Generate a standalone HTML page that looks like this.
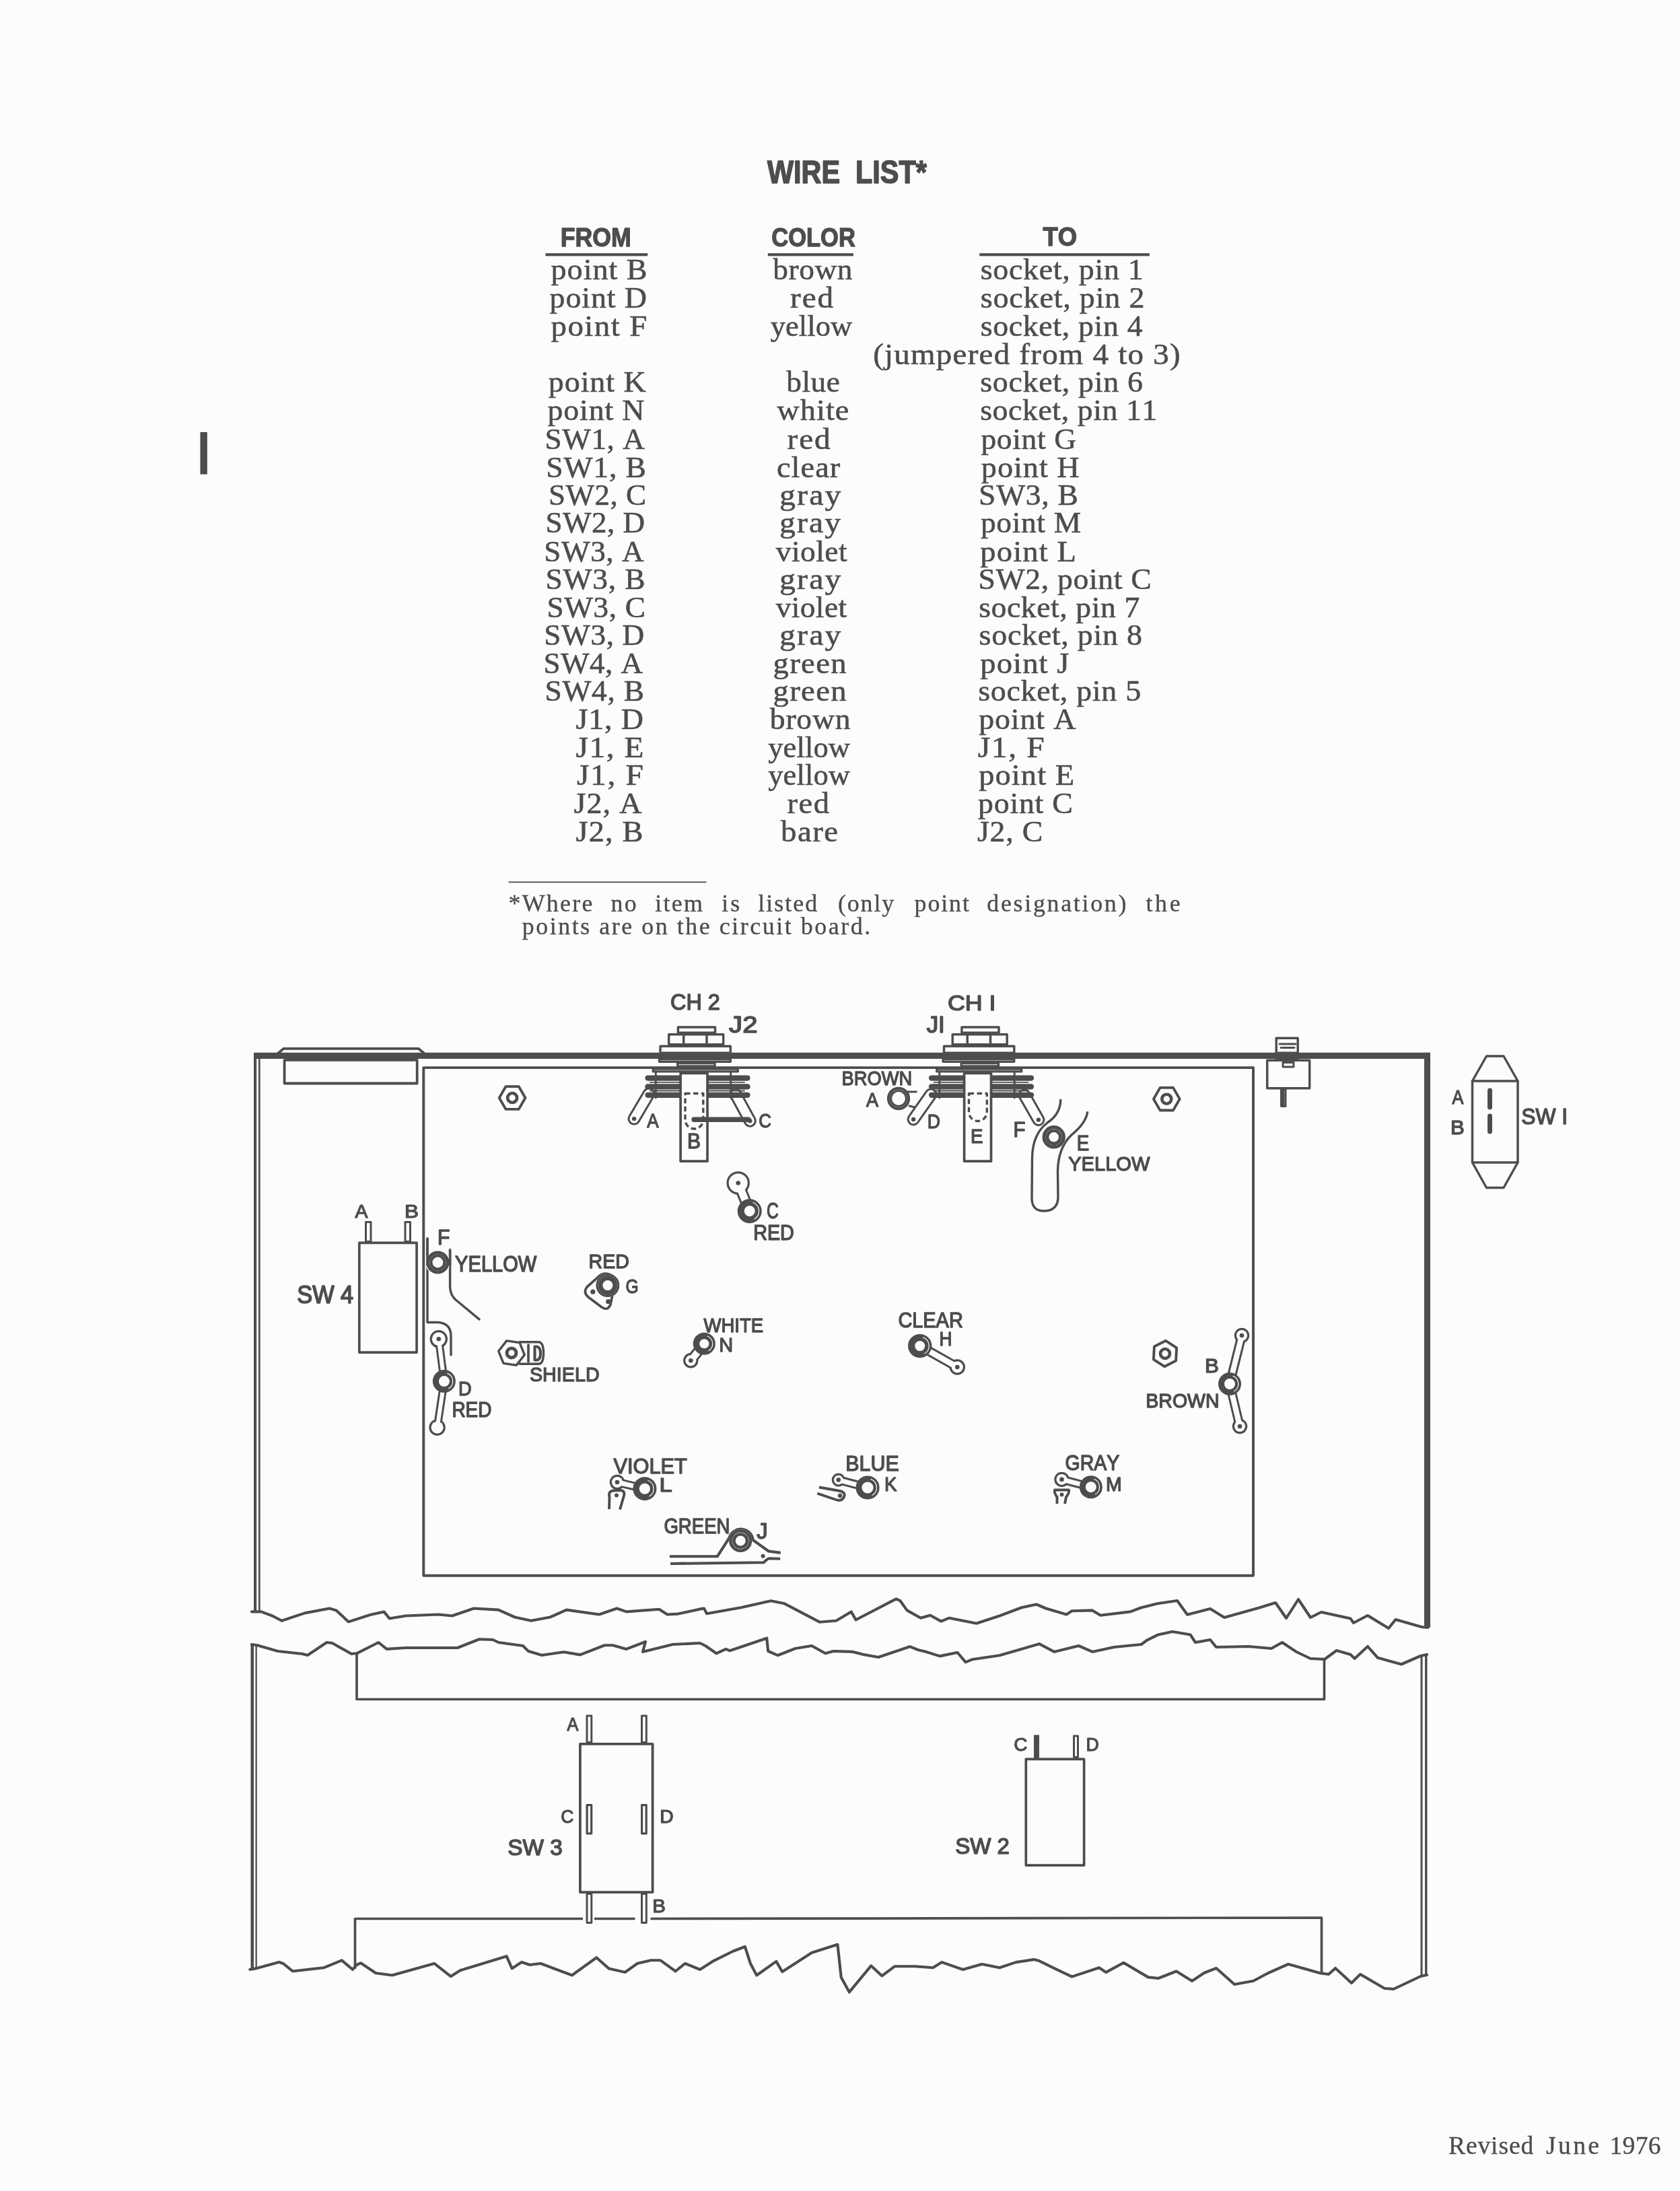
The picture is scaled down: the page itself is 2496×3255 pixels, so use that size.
<!DOCTYPE html>
<html><head><meta charset="utf-8"><title>Wire List</title>
<style>
html,body{margin:0;padding:0;background:#fcfcfc;}
body{width:2496px;height:3255px;overflow:hidden;position:relative;}
svg{position:absolute;left:0;top:0;display:block;will-change:transform;}
text{font-kerning:none;white-space:pre;}
</style></head><body>
<svg width="2496" height="3255" viewBox="0 0 2496 3255">
<g fill="#4d4d4d">
<text x="1140.0" y="271.7" font-family="'Liberation Sans',sans-serif" font-weight="bold" font-size="47.97" textLength="236.8" lengthAdjust="spacingAndGlyphs" stroke="#4d4d4d" stroke-width="1.58" stroke-linejoin="round">WIRE  LIST*</text>
<text x="832.7" y="365.7" font-family="'Liberation Sans',sans-serif" font-weight="bold" font-size="38.08" textLength="105.1" lengthAdjust="spacingAndGlyphs" stroke="#4d4d4d" stroke-width="1.26" stroke-linejoin="round">FROM</text>
<text x="1146.2" y="365.7" font-family="'Liberation Sans',sans-serif" font-weight="bold" font-size="38.08" textLength="124.7" lengthAdjust="spacingAndGlyphs" stroke="#4d4d4d" stroke-width="1.26" stroke-linejoin="round">COLOR</text>
<text x="1549.4" y="364.5" font-family="'Liberation Sans',sans-serif" font-weight="bold" font-size="38.37" textLength="50.7" lengthAdjust="spacingAndGlyphs" stroke="#4d4d4d" stroke-width="1.27" stroke-linejoin="round">TO</text>
<rect x="810.4" y="376.2" width="151.8" height="4.2"/>
<rect x="1140.8" y="376.2" width="127.1" height="4.2"/>
<rect x="1455.2" y="376.2" width="252.7" height="4.2"/>
<text transform="translate(818.6,415.2) scale(1.0423,1)" font-family="'Liberation Serif',serif" font-size="44.29" letter-spacing="0.91" stroke="#4d4d4d" stroke-width="0.60" stroke-linejoin="round">point B</text>
<text transform="translate(1148.2,415.2) scale(1.0224,1)" font-family="'Liberation Serif',serif" font-size="44.29" letter-spacing="0.63" stroke="#4d4d4d" stroke-width="0.60" stroke-linejoin="round">brown</text>
<text transform="translate(1456.7,415.2) scale(1.0373,1)" font-family="'Liberation Serif',serif" font-size="44.29" letter-spacing="0.69" stroke="#4d4d4d" stroke-width="0.60" stroke-linejoin="round">socket, pin 1</text>
<text transform="translate(816.6,456.8) scale(1.0383,1)" font-family="'Liberation Serif',serif" font-size="44.29" letter-spacing="0.84" stroke="#4d4d4d" stroke-width="0.60" stroke-linejoin="round">point D</text>
<text transform="translate(1174.1,456.8) scale(1.0648,1)" font-family="'Liberation Serif',serif" font-size="44.29" letter-spacing="1.79" stroke="#4d4d4d" stroke-width="0.60" stroke-linejoin="round">red</text>
<text transform="translate(1456.7,456.8) scale(1.0412,1)" font-family="'Liberation Serif',serif" font-size="44.29" letter-spacing="0.76" stroke="#4d4d4d" stroke-width="0.60" stroke-linejoin="round">socket, pin 2</text>
<text transform="translate(818.5,498.5) scale(1.0626,1)" font-family="'Liberation Serif',serif" font-size="44.29" letter-spacing="1.30" stroke="#4d4d4d" stroke-width="0.60" stroke-linejoin="round">point F</text>
<text transform="translate(1144.7,498.5) scale(1.0033,1)" font-family="'Liberation Serif',serif" font-size="44.29" letter-spacing="0.08" stroke="#4d4d4d" stroke-width="0.60" stroke-linejoin="round">yellow</text>
<text transform="translate(1456.7,498.5) scale(1.0349,1)" font-family="'Liberation Serif',serif" font-size="44.29" letter-spacing="0.65" stroke="#4d4d4d" stroke-width="0.60" stroke-linejoin="round">socket, pin 4</text>
<text transform="translate(1297.2,540.9) scale(1.0609,1)" font-family="'Liberation Serif',serif" font-size="44.29" letter-spacing="1.17" stroke="#4d4d4d" stroke-width="0.60" stroke-linejoin="round">(jumpered from 4 to 3)</text>
<text transform="translate(814.8,581.8) scale(1.0397,1)" font-family="'Liberation Serif',serif" font-size="44.29" letter-spacing="0.88" stroke="#4d4d4d" stroke-width="0.60" stroke-linejoin="round">point K</text>
<text transform="translate(1168.2,581.8) scale(1.0230,1)" font-family="'Liberation Serif',serif" font-size="44.29" letter-spacing="0.57" stroke="#4d4d4d" stroke-width="0.60" stroke-linejoin="round">blue</text>
<text transform="translate(1456.2,581.8) scale(1.0368,1)" font-family="'Liberation Serif',serif" font-size="44.29" letter-spacing="0.68" stroke="#4d4d4d" stroke-width="0.60" stroke-linejoin="round">socket, pin 6</text>
<text transform="translate(813.6,624.4) scale(1.0357,1)" font-family="'Liberation Serif',serif" font-size="44.29" letter-spacing="0.79" stroke="#4d4d4d" stroke-width="0.60" stroke-linejoin="round">point N</text>
<text transform="translate(1154.2,624.4) scale(1.0444,1)" font-family="'Liberation Serif',serif" font-size="44.29" letter-spacing="1.07" stroke="#4d4d4d" stroke-width="0.60" stroke-linejoin="round">white</text>
<text transform="translate(1456.2,624.4) scale(1.0323,1)" font-family="'Liberation Serif',serif" font-size="44.29" letter-spacing="0.60" stroke="#4d4d4d" stroke-width="0.60" stroke-linejoin="round">socket, pin 11</text>
<text transform="translate(809.5,667.0) scale(1.0205,1)" font-family="'Liberation Serif',serif" font-size="44.29" letter-spacing="0.57" stroke="#4d4d4d" stroke-width="0.60" stroke-linejoin="round">SW1, A</text>
<text transform="translate(1169.6,667.0) scale(1.0648,1)" font-family="'Liberation Serif',serif" font-size="44.29" letter-spacing="1.79" stroke="#4d4d4d" stroke-width="0.60" stroke-linejoin="round">red</text>
<text transform="translate(1457.4,667.0) scale(1.0284,1)" font-family="'Liberation Serif',serif" font-size="44.29" letter-spacing="0.62" stroke="#4d4d4d" stroke-width="0.60" stroke-linejoin="round">point G</text>
<text transform="translate(811.2,708.7) scale(1.0301,1)" font-family="'Liberation Serif',serif" font-size="44.29" letter-spacing="0.81" stroke="#4d4d4d" stroke-width="0.60" stroke-linejoin="round">SW1, B</text>
<text transform="translate(1153.9,708.7) scale(1.0480,1)" font-family="'Liberation Serif',serif" font-size="44.29" letter-spacing="1.01" stroke="#4d4d4d" stroke-width="0.60" stroke-linejoin="round">clear</text>
<text transform="translate(1457.8,708.7) scale(1.0434,1)" font-family="'Liberation Serif',serif" font-size="44.29" letter-spacing="0.96" stroke="#4d4d4d" stroke-width="0.60" stroke-linejoin="round">point H</text>
<text transform="translate(814.9,750.3) scale(1.0182,1)" font-family="'Liberation Serif',serif" font-size="44.29" letter-spacing="0.49" stroke="#4d4d4d" stroke-width="0.60" stroke-linejoin="round">SW2, C</text>
<text transform="translate(1157.9,750.3) scale(1.0802,1)" font-family="'Liberation Serif',serif" font-size="44.29" letter-spacing="2.05" stroke="#4d4d4d" stroke-width="0.60" stroke-linejoin="round">gray</text>
<text transform="translate(1454.1,750.3) scale(1.0272,1)" font-family="'Liberation Serif',serif" font-size="44.29" letter-spacing="0.74" stroke="#4d4d4d" stroke-width="0.60" stroke-linejoin="round">SW3, B</text>
<text transform="translate(810.4,791.1) scale(1.0177,1)" font-family="'Liberation Serif',serif" font-size="44.29" letter-spacing="0.49" stroke="#4d4d4d" stroke-width="0.60" stroke-linejoin="round">SW2, D</text>
<text transform="translate(1158.0,791.1) scale(1.0766,1)" font-family="'Liberation Serif',serif" font-size="44.29" letter-spacing="1.96" stroke="#4d4d4d" stroke-width="0.60" stroke-linejoin="round">gray</text>
<text transform="translate(1457.0,791.1) scale(1.0266,1)" font-family="'Liberation Serif',serif" font-size="44.29" letter-spacing="0.62" stroke="#4d4d4d" stroke-width="0.60" stroke-linejoin="round">point M</text>
<text transform="translate(808.3,833.5) scale(1.0198,1)" font-family="'Liberation Serif',serif" font-size="44.29" letter-spacing="0.55" stroke="#4d4d4d" stroke-width="0.60" stroke-linejoin="round">SW3, A</text>
<text transform="translate(1152.7,833.5) scale(1.0245,1)" font-family="'Liberation Serif',serif" font-size="44.29" letter-spacing="0.49" stroke="#4d4d4d" stroke-width="0.60" stroke-linejoin="round">violet</text>
<text transform="translate(1456.3,833.5) scale(1.0519,1)" font-family="'Liberation Serif',serif" font-size="44.29" letter-spacing="1.09" stroke="#4d4d4d" stroke-width="0.60" stroke-linejoin="round">point L</text>
<text transform="translate(810.4,874.6) scale(1.0283,1)" font-family="'Liberation Serif',serif" font-size="44.29" letter-spacing="0.77" stroke="#4d4d4d" stroke-width="0.60" stroke-linejoin="round">SW3, B</text>
<text transform="translate(1157.9,874.6) scale(1.0802,1)" font-family="'Liberation Serif',serif" font-size="44.29" letter-spacing="2.05" stroke="#4d4d4d" stroke-width="0.60" stroke-linejoin="round">gray</text>
<text transform="translate(1453.4,874.6) scale(1.0306,1)" font-family="'Liberation Serif',serif" font-size="44.29" letter-spacing="0.66" stroke="#4d4d4d" stroke-width="0.60" stroke-linejoin="round">SW2, point C</text>
<text transform="translate(812.5,916.8) scale(1.0218,1)" font-family="'Liberation Serif',serif" font-size="44.29" letter-spacing="0.59" stroke="#4d4d4d" stroke-width="0.60" stroke-linejoin="round">SW3, C</text>
<text transform="translate(1152.7,916.8) scale(1.0216,1)" font-family="'Liberation Serif',serif" font-size="44.29" letter-spacing="0.44" stroke="#4d4d4d" stroke-width="0.60" stroke-linejoin="round">violet</text>
<text transform="translate(1454.2,916.8) scale(1.0310,1)" font-family="'Liberation Serif',serif" font-size="44.29" letter-spacing="0.57" stroke="#4d4d4d" stroke-width="0.60" stroke-linejoin="round">socket, pin 7</text>
<text transform="translate(808.3,957.8) scale(1.0220,1)" font-family="'Liberation Serif',serif" font-size="44.29" letter-spacing="0.61" stroke="#4d4d4d" stroke-width="0.60" stroke-linejoin="round">SW3, D</text>
<text transform="translate(1157.9,957.8) scale(1.0802,1)" font-family="'Liberation Serif',serif" font-size="44.29" letter-spacing="2.05" stroke="#4d4d4d" stroke-width="0.60" stroke-linejoin="round">gray</text>
<text transform="translate(1454.6,957.8) scale(1.0377,1)" font-family="'Liberation Serif',serif" font-size="44.29" letter-spacing="0.70" stroke="#4d4d4d" stroke-width="0.60" stroke-linejoin="round">socket, pin 8</text>
<text transform="translate(807.4,999.6) scale(1.0177,1)" font-family="'Liberation Serif',serif" font-size="44.29" letter-spacing="0.49" stroke="#4d4d4d" stroke-width="0.60" stroke-linejoin="round">SW4, A</text>
<text transform="translate(1148.6,999.6) scale(1.0530,1)" font-family="'Liberation Serif',serif" font-size="44.29" letter-spacing="1.27" stroke="#4d4d4d" stroke-width="0.60" stroke-linejoin="round">green</text>
<text transform="translate(1456.3,999.6) scale(1.0529,1)" font-family="'Liberation Serif',serif" font-size="44.29" letter-spacing="1.04" stroke="#4d4d4d" stroke-width="0.60" stroke-linejoin="round">point J</text>
<text transform="translate(809.5,1041.3) scale(1.0262,1)" font-family="'Liberation Serif',serif" font-size="44.29" letter-spacing="0.71" stroke="#4d4d4d" stroke-width="0.60" stroke-linejoin="round">SW4, B</text>
<text transform="translate(1148.6,1041.3) scale(1.0530,1)" font-family="'Liberation Serif',serif" font-size="44.29" letter-spacing="1.27" stroke="#4d4d4d" stroke-width="0.60" stroke-linejoin="round">green</text>
<text transform="translate(1453.3,1041.3) scale(1.0367,1)" font-family="'Liberation Serif',serif" font-size="44.29" letter-spacing="0.68" stroke="#4d4d4d" stroke-width="0.60" stroke-linejoin="round">socket, pin 5</text>
<text transform="translate(855.5,1082.8) scale(1.0373,1)" font-family="'Liberation Serif',serif" font-size="44.29" letter-spacing="0.85" stroke="#4d4d4d" stroke-width="0.60" stroke-linejoin="round">J1, D</text>
<text transform="translate(1143.8,1082.8) scale(1.0285,1)" font-family="'Liberation Serif',serif" font-size="44.29" letter-spacing="0.80" stroke="#4d4d4d" stroke-width="0.60" stroke-linejoin="round">brown</text>
<text transform="translate(1454.2,1082.8) scale(1.0374,1)" font-family="'Liberation Serif',serif" font-size="44.29" letter-spacing="0.83" stroke="#4d4d4d" stroke-width="0.60" stroke-linejoin="round">point A</text>
<text transform="translate(855.5,1124.6) scale(1.0693,1)" font-family="'Liberation Serif',serif" font-size="44.29" letter-spacing="1.48" stroke="#4d4d4d" stroke-width="0.60" stroke-linejoin="round">J1, E</text>
<text transform="translate(1141.2,1124.6) scale(1.0054,1)" font-family="'Liberation Serif',serif" font-size="44.29" letter-spacing="0.13" stroke="#4d4d4d" stroke-width="0.60" stroke-linejoin="round">yellow</text>
<text transform="translate(1452.7,1124.6) scale(1.0737,1)" font-family="'Liberation Serif',serif" font-size="44.29" letter-spacing="1.54" stroke="#4d4d4d" stroke-width="0.60" stroke-linejoin="round">J1, F</text>
<text transform="translate(857.0,1166.3) scale(1.0725,1)" font-family="'Liberation Serif',serif" font-size="44.29" letter-spacing="1.52" stroke="#4d4d4d" stroke-width="0.60" stroke-linejoin="round">J1, F</text>
<text transform="translate(1141.2,1166.3) scale(1.0054,1)" font-family="'Liberation Serif',serif" font-size="44.29" letter-spacing="0.13" stroke="#4d4d4d" stroke-width="0.60" stroke-linejoin="round">yellow</text>
<text transform="translate(1454.2,1166.3) scale(1.0493,1)" font-family="'Liberation Serif',serif" font-size="44.29" letter-spacing="1.04" stroke="#4d4d4d" stroke-width="0.60" stroke-linejoin="round">point E</text>
<text transform="translate(852.6,1207.8) scale(1.0396,1)" font-family="'Liberation Serif',serif" font-size="44.29" letter-spacing="0.91" stroke="#4d4d4d" stroke-width="0.60" stroke-linejoin="round">J2, A</text>
<text transform="translate(1169.6,1207.8) scale(1.0520,1)" font-family="'Liberation Serif',serif" font-size="44.29" letter-spacing="1.43" stroke="#4d4d4d" stroke-width="0.60" stroke-linejoin="round">red</text>
<text transform="translate(1453.0,1207.8) scale(1.0352,1)" font-family="'Liberation Serif',serif" font-size="44.29" letter-spacing="0.75" stroke="#4d4d4d" stroke-width="0.60" stroke-linejoin="round">point C</text>
<text transform="translate(855.5,1249.6) scale(1.0490,1)" font-family="'Liberation Serif',serif" font-size="44.29" letter-spacing="1.08" stroke="#4d4d4d" stroke-width="0.60" stroke-linejoin="round">J2, B</text>
<text transform="translate(1160.0,1249.6) scale(1.0575,1)" font-family="'Liberation Serif',serif" font-size="44.29" letter-spacing="1.43" stroke="#4d4d4d" stroke-width="0.60" stroke-linejoin="round">bare</text>
<text transform="translate(1452.0,1249.6) scale(1.0337,1)" font-family="'Liberation Serif',serif" font-size="44.29" letter-spacing="0.74" stroke="#4d4d4d" stroke-width="0.60" stroke-linejoin="round">J2, C</text>
<rect x="755.5" y="1309.6" width="294" height="1.8"/>
<text x="755.5" y="1353.6" font-family="'Liberation Serif',serif" font-size="35.89" letter-spacing="2.28" stroke="#4d4d4d" stroke-width="0.35" stroke-linejoin="round">*Where</text>
<text x="907.6" y="1353.6" font-family="'Liberation Serif',serif" font-size="35.89" letter-spacing="2.20" stroke="#4d4d4d" stroke-width="0.35" stroke-linejoin="round">no</text>
<text x="973.2" y="1353.6" font-family="'Liberation Serif',serif" font-size="35.89" letter-spacing="2.31" stroke="#4d4d4d" stroke-width="0.35" stroke-linejoin="round">item</text>
<text x="1072.2" y="1353.6" font-family="'Liberation Serif',serif" font-size="35.89" letter-spacing="3.01" stroke="#4d4d4d" stroke-width="0.35" stroke-linejoin="round">is</text>
<text x="1126.3" y="1353.6" font-family="'Liberation Serif',serif" font-size="35.89" letter-spacing="2.02" stroke="#4d4d4d" stroke-width="0.35" stroke-linejoin="round">listed</text>
<text x="1244.9" y="1353.6" font-family="'Liberation Serif',serif" font-size="35.89" letter-spacing="1.92" stroke="#4d4d4d" stroke-width="0.35" stroke-linejoin="round">(only</text>
<text x="1358.6" y="1353.6" font-family="'Liberation Serif',serif" font-size="35.89" letter-spacing="1.88" stroke="#4d4d4d" stroke-width="0.35" stroke-linejoin="round">point</text>
<text x="1466.3" y="1353.6" font-family="'Liberation Serif',serif" font-size="35.89" letter-spacing="2.71" stroke="#4d4d4d" stroke-width="0.35" stroke-linejoin="round">designation)</text>
<text x="1702.4" y="1353.6" font-family="'Liberation Serif',serif" font-size="35.89" letter-spacing="3.67" stroke="#4d4d4d" stroke-width="0.35" stroke-linejoin="round">the</text>
<text x="775.8" y="1387.9" font-family="'Liberation Serif',serif" font-size="35.89" letter-spacing="2.55" stroke="#4d4d4d" stroke-width="0.35" stroke-linejoin="round">points are on the circuit board.</text>
<text x="2152.0" y="3200.4" font-family="'Liberation Serif',serif" font-size="37.57" letter-spacing="0.87" stroke="#4d4d4d" stroke-width="0.35" stroke-linejoin="round">Revised</text>
<text x="2297.1" y="3200.4" font-family="'Liberation Serif',serif" font-size="37.57" letter-spacing="3.34" stroke="#4d4d4d" stroke-width="0.35" stroke-linejoin="round">June</text>
<text x="2391.5" y="3200.4" font-family="'Liberation Serif',serif" font-size="37.57" letter-spacing="0.33" stroke="#4d4d4d" stroke-width="0.35" stroke-linejoin="round">1976</text>
<rect x="297.5" y="642" width="10.4" height="62.6"/>
</g>
<g stroke="#4d4d4d" stroke-linejoin="round" fill="none">
<rect x="377.0" y="1563.8" width="1748.0" height="9.2" fill="#4d4d4d" stroke="none"/>
<rect x="2116.0" y="1563.8" width="9.0" height="854.2" fill="#4d4d4d" stroke="none"/>
<rect x="377.0" y="1565.0" width="4.2" height="831.0" fill="#4d4d4d" stroke="none"/>
<rect x="384.0" y="1573.0" width="2.6" height="823.0" fill="#4d4d4d" stroke="none"/>
<polyline points="412.7,1565.0 421.6,1557.8 621.6,1557.8 630.5,1565.0" fill="none" stroke-width="3.6799999999999997" stroke-linecap="round"/>
<rect x="422.6" y="1574.9" width="197.1" height="34.6" fill="none" stroke-width="3.7949999999999995"/>
<rect x="629.3" y="1586.1" width="1232.7" height="754.6" fill="none" stroke-width="3.9099999999999997"/>
<rect x="1007.4" y="1526.0" width="55.1" height="8.3" fill="none" stroke-width="3.4499999999999997"/>
<rect x="993.7" y="1536.7" width="81.0" height="15.1" fill="none" stroke-width="3.4499999999999997"/>
<polyline points="1015.7,1536.0 1015.7,1552.0" fill="none" stroke-width="3.4499999999999997" stroke-linecap="round"/>
<polyline points="1050.0,1536.0 1050.0,1552.0" fill="none" stroke-width="3.4499999999999997" stroke-linecap="round"/>
<rect x="981.0" y="1554.2" width="104.3" height="10.1" fill="none" stroke-width="3.4499999999999997"/>
<rect x="979.6" y="1573.2" width="105.7" height="4.1" fill="#fcfcfc" stroke-width="3.4499999999999997"/>
<rect x="1006.6" y="1579.6" width="55.4" height="4.3" fill="#fcfcfc" stroke-width="3.2199999999999998"/>
<rect x="970.2" y="1588.1" width="126.1" height="3.8" fill="#fcfcfc" stroke-width="3.2199999999999998"/>
<line x1="964" y1="1625" x2="942.1" y2="1662.1" stroke-width="19" stroke-linecap="round"/>
<line x1="964" y1="1625" x2="942.1" y2="1662.1" stroke="#fcfcfc" stroke-width="13" stroke-linecap="round"/>
<circle cx="942.1" cy="1662.1" r="3.2" fill="#4d4d4d" stroke-width="0"/>
<line x1="1093" y1="1626" x2="1114.3" y2="1665.2" stroke-width="19" stroke-linecap="round"/>
<line x1="1093" y1="1626" x2="1114.3" y2="1665.2" stroke="#fcfcfc" stroke-width="13" stroke-linecap="round"/>
<circle cx="1114.3" cy="1665.2" r="3.2" fill="#4d4d4d" stroke-width="0"/>
<line x1="962.5" y1="1601.6" x2="1110.5" y2="1601.6" stroke-width="8.2" stroke-linecap="round"/>
<line x1="962.5" y1="1614.4" x2="1110.5" y2="1614.4" stroke-width="8.4" stroke-linecap="round"/>
<line x1="962.5" y1="1626.8" x2="1110.5" y2="1626.8" stroke-width="8.3" stroke-linecap="round"/>
<polyline points="966.0,1607.9 1106.0,1607.9" fill="none" stroke-width="1.8399999999999999" stroke-linecap="round"/>
<polyline points="966.0,1620.5 1106.0,1620.5" fill="none" stroke-width="1.8399999999999999" stroke-linecap="round"/>
<polyline points="974.3,1593.0 974.3,1631.0" fill="none" stroke-width="2.9899999999999998" stroke-linecap="round"/>
<polyline points="1085.7,1593.0 1085.7,1631.0" fill="none" stroke-width="2.9899999999999998" stroke-linecap="round"/>
<rect x="1011.1" y="1594.3" width="39.9" height="130.9" fill="#fcfcfc" stroke-width="3.6799999999999997"/>
<path d="M1018.0,1624.5 L1044.8,1624.5 L1044.8,1663.6 A13.4,13.4 0 0 1 1018.0,1663.6 Z" stroke-width="3.4" stroke-dasharray="7.5,4.5"/>
<polyline points="1031.0,1663.2 1112.0,1663.2" fill="none" stroke-width="7.359999999999999" stroke-linecap="round"/>
<rect x="1428.9" y="1526.0" width="55.1" height="8.3" fill="none" stroke-width="3.4499999999999997"/>
<rect x="1415.2" y="1536.7" width="81.0" height="15.1" fill="none" stroke-width="3.4499999999999997"/>
<polyline points="1437.2,1536.0 1437.2,1552.0" fill="none" stroke-width="3.4499999999999997" stroke-linecap="round"/>
<polyline points="1471.5,1536.0 1471.5,1552.0" fill="none" stroke-width="3.4499999999999997" stroke-linecap="round"/>
<rect x="1402.5" y="1554.2" width="104.3" height="10.1" fill="none" stroke-width="3.4499999999999997"/>
<rect x="1401.1" y="1573.2" width="105.6" height="4.1" fill="#fcfcfc" stroke-width="3.4499999999999997"/>
<rect x="1428.1" y="1579.6" width="55.4" height="4.3" fill="#fcfcfc" stroke-width="3.2199999999999998"/>
<rect x="1391.7" y="1588.1" width="126.1" height="3.8" fill="#fcfcfc" stroke-width="3.2199999999999998"/>
<line x1="1383" y1="1626" x2="1357.1" y2="1662.9" stroke-width="19" stroke-linecap="round"/>
<line x1="1383" y1="1626" x2="1357.1" y2="1662.9" stroke="#fcfcfc" stroke-width="13" stroke-linecap="round"/>
<circle cx="1357.1" cy="1662.9" r="3.2" fill="#4d4d4d" stroke-width="0"/>
<line x1="1522" y1="1627" x2="1542.9" y2="1663.6" stroke-width="19" stroke-linecap="round"/>
<line x1="1522" y1="1627" x2="1542.9" y2="1663.6" stroke="#fcfcfc" stroke-width="13" stroke-linecap="round"/>
<circle cx="1542.9" cy="1663.6" r="3.2" fill="#4d4d4d" stroke-width="0"/>
<line x1="1384.0" y1="1601.6" x2="1532.0" y2="1601.6" stroke-width="8.2" stroke-linecap="round"/>
<line x1="1384.0" y1="1614.4" x2="1532.0" y2="1614.4" stroke-width="8.4" stroke-linecap="round"/>
<line x1="1384.0" y1="1626.8" x2="1532.0" y2="1626.8" stroke-width="8.3" stroke-linecap="round"/>
<polyline points="1387.5,1607.9 1527.5,1607.9" fill="none" stroke-width="1.8399999999999999" stroke-linecap="round"/>
<polyline points="1387.5,1620.5 1527.5,1620.5" fill="none" stroke-width="1.8399999999999999" stroke-linecap="round"/>
<polyline points="1395.8,1593.0 1395.8,1631.0" fill="none" stroke-width="2.9899999999999998" stroke-linecap="round"/>
<polyline points="1507.2,1593.0 1507.2,1631.0" fill="none" stroke-width="2.9899999999999998" stroke-linecap="round"/>
<rect x="1432.6" y="1594.3" width="39.9" height="130.9" fill="#fcfcfc" stroke-width="3.6799999999999997"/>
<path d="M1439.5,1624.5 L1466.3,1624.5 L1466.3,1652.1 A13.4,13.4 0 0 1 1439.5,1652.1 Z" stroke-width="3.4" stroke-dasharray="7.5,4.5"/>
<circle cx="1335" cy="1632" r="16.8" fill="#fcfcfc" stroke-width="0"/>
<circle cx="1335" cy="1632" r="15.2" fill="none" stroke-width="3.91"/>
<circle cx="1335" cy="1632" r="11.5" fill="none" stroke-width="3.22"/>
<polyline points="1348.6,1622.0 1361.4,1622.0" fill="none" stroke-width="2.9899999999999998" stroke-linecap="round"/>
<polyline points="1351.0,1643.0 1359.0,1645.0" fill="none" stroke-width="2.9899999999999998" stroke-linecap="round"/>
<path d="M1575.7,1632.9 Q1576,1655 1556,1668 Q1534,1685 1533.5,1720 L1533,1780 Q1533,1800 1552.5,1799 Q1572,1798 1572,1778 L1571.5,1740 Q1572,1705 1592,1686 Q1614,1668 1615.7,1651.4" fill="none" stroke-width="3.45"/>
<circle cx="1565.7" cy="1689.3" r="17.5" fill="#fcfcfc" stroke-width="0"/>
<circle cx="1565.7" cy="1689.3" r="14.6" fill="none" stroke-width="5.2"/>
<circle cx="1565.7" cy="1689.3" r="9.6" fill="none" stroke-width="4.6"/>
<rect x="1896.2" y="1542.2" width="32.0" height="22.1" fill="#fcfcfc" stroke-width="3.4499999999999997"/>
<polyline points="1901.0,1551.0 1925.0,1551.0" fill="none" stroke-width="2.875" stroke-linecap="round"/>
<polyline points="1903.0,1556.5 1923.0,1556.5" fill="none" stroke-width="2.875" stroke-linecap="round"/>
<rect x="1894.5" y="1563.0" width="35.5" height="11.0" fill="#4d4d4d" stroke="none"/>
<rect x="1882.7" y="1575.2" width="63.0" height="41.5" fill="none" stroke-width="3.4499999999999997"/>
<rect x="1906.0" y="1578.5" width="16.0" height="6.5" fill="none" stroke-width="2.9899999999999998"/>
<rect x="1903.5" y="1618.5" width="6.5" height="25.0" fill="none" stroke-width="2.9899999999999998"/>
<rect x="1905.0" y="1618.0" width="3.5" height="26.0" fill="#4d4d4d" stroke="none"/>
<polygon points="2208.5,1569.0 2234.0,1569.0 2255.0,1606.0 2255.0,1727.0 2234.0,1764.5 2208.5,1764.5 2187.5,1727.0 2187.5,1606.0" fill="none" stroke-width="3.4499999999999997" stroke-linecap="round"/>
<polyline points="2187.5,1606.0 2255.0,1606.0" fill="none" stroke-width="3.4499999999999997" stroke-linecap="round"/>
<polyline points="2187.5,1727.0 2255.0,1727.0" fill="none" stroke-width="3.4499999999999997" stroke-linecap="round"/>
<line x1="2213.5" y1="1620" x2="2213.5" y2="1645" stroke-width="7" stroke-linecap="round"/>
<line x1="2213.5" y1="1658" x2="2213.5" y2="1681" stroke-width="7" stroke-linecap="round"/>
<polygon points="780.5,1631.0 770.8,1647.8 751.4,1647.8 741.7,1631.0 751.4,1614.2 770.8,1614.2" fill="none" stroke-width="3.7949999999999995" stroke-linecap="round"/>
<circle cx="761.1" cy="1631" r="7" fill="none" stroke-width="4.6"/>
<polygon points="1752.7,1632.7 1743.0,1649.5 1723.6,1649.5 1713.9,1632.7 1723.6,1615.9 1743.0,1615.9" fill="none" stroke-width="3.7949999999999995" stroke-linecap="round"/>
<circle cx="1733.3" cy="1632.7" r="7" fill="none" stroke-width="4.6"/>
<polygon points="1730.0,2030.2 1713.9,2019.7 1714.9,2000.5 1732.0,1991.8 1748.1,2002.3 1747.1,2021.5" fill="none" stroke-width="3.9099999999999997" stroke-linecap="round"/>
<circle cx="1731" cy="2011" r="7" fill="none" stroke-width="4.6"/>
<line x1="1096.7" y1="1757.5" x2="1113.7" y2="1799.2" stroke-width="17" stroke-linecap="butt"/>
<circle cx="1096.7" cy="1757.5" r="15.5" fill="#4d4d4d" stroke-width="3.45"/>
<circle cx="1096.7" cy="1757.5" r="14.0" fill="#fcfcfc" stroke="none"/>
<line x1="1096.7" y1="1757.5" x2="1113.7" y2="1799.2" stroke="#fcfcfc" stroke-width="11" stroke-linecap="butt"/>
<circle cx="1096.7" cy="1757.5" r="3.3" fill="#4d4d4d" stroke-width="0"/>
<circle cx="1113.7" cy="1799.2" r="13.0" fill="#fcfcfc" stroke-width="10.0"/>
<path d="M1118.4,1786.2 A13.8,13.8 0 0 1 1120.6,1811.2" stroke="#fcfcfc" stroke-width="1.2"/>
<rect x="533.8" y="1846.3" width="85.3" height="162.8" fill="none" stroke-width="3.6799999999999997"/>
<rect x="543.5" y="1815.5" width="7.5" height="29.0" fill="none" stroke-width="2.9899999999999998"/>
<rect x="602.0" y="1815.5" width="7.5" height="29.0" fill="none" stroke-width="2.9899999999999998"/>
<path d="M635,1839.7 L635,1964.5 L651,1964.5 Q670,1966 670,1985 L670,2014.2" fill="none" stroke-width="3.45"/>
<path d="M668.6,1856.5 L668.6,1912 Q669,1924 677,1931 L713.1,1960.9" fill="none" stroke-width="3.45"/>
<circle cx="650.4" cy="1875.5" r="18.5" fill="#fcfcfc" stroke-width="0"/>
<circle cx="650.4" cy="1875.5" r="14.6" fill="none" stroke-width="5"/>
<circle cx="650.4" cy="1875.5" r="10" fill="none" stroke-width="4.14"/>
<polyline points="635.0,1839.7 635.0,1880.0" fill="none" stroke-width="3.4499999999999997" stroke-linecap="round"/>
<polyline points="668.6,1856.5 668.6,1880.0" fill="none" stroke-width="3.4499999999999997" stroke-linecap="round"/>
<path d="M872,1912 Q866,1920 874,1927 L894,1942 Q903,1948 907,1938 L913.5,1907 Q915,1897 905,1893 Q896,1890 890,1896 Z" fill="none" stroke-width="3.68"/>
<circle cx="880.8" cy="1919.2" r="3.6" fill="#4d4d4d" stroke-width="0"/>
<circle cx="903.7" cy="1933.7" r="3.6" fill="#4d4d4d" stroke-width="0"/>
<circle cx="902.9" cy="1909.6" r="17.5" fill="#fcfcfc" stroke-width="0"/>
<circle cx="902.9" cy="1909.6" r="11" fill="none" stroke-width="7"/>
<circle cx="902.9" cy="1909.6" r="16" fill="none" stroke-width="2.99"/>
<line x1="1026.3" y1="2021.3" x2="1046.3" y2="1996.3" stroke-width="16" stroke-linecap="butt"/>
<circle cx="1026.3" cy="2021.3" r="9.5" fill="#4d4d4d" stroke-width="3.45"/>
<circle cx="1026.3" cy="2021.3" r="8.0" fill="#fcfcfc" stroke="none"/>
<line x1="1026.3" y1="2021.3" x2="1046.3" y2="1996.3" stroke="#fcfcfc" stroke-width="10" stroke-linecap="butt"/>
<circle cx="1026.3" cy="2021.3" r="3.3" fill="#4d4d4d" stroke-width="0"/>
<circle cx="1046.3" cy="1996.3" r="11.8" fill="#fcfcfc" stroke-width="9.5"/>
<path d="M1050.5,1984.7 A12.3,12.3 0 0 1 1052.5,2007.0" stroke="#fcfcfc" stroke-width="1.2"/>
<path d="M771,1993.8 L800,1993.8 Q807.5,1994 807.5,2010 Q807.5,2026.3 800,2026.3 L771,2026.3" fill="none" stroke-width="3.45"/>
<polyline points="785.0,1998.0 785.0,2023.0" fill="none" stroke-width="3.6799999999999997" stroke-linecap="round"/>
<path d="M794.5,2000.5 L797,2000.5 Q803,2001 803,2010.5 Q803,2020.5 797,2020.5 L794.5,2020.5 Z" fill="none" stroke-width="4.14"/>
<polygon points="779.3,2012.7 767.3,2028.1 748.0,2025.4 740.7,2007.3 752.7,1991.9 772.0,1994.6" fill="none" stroke-width="3.4499999999999997" stroke-linecap="round"/>
<circle cx="760" cy="2010" r="7" fill="none" stroke-width="4.6"/>
<circle cx="760" cy="2010" r="7" fill="none" stroke-width="4.5"/>
<line x1="651.8" y1="1989.3" x2="659.9" y2="2052.1" stroke-width="12" stroke-linecap="butt"/>
<circle cx="651.8" cy="1989.3" r="11.5" fill="#4d4d4d" stroke-width="3.45"/>
<circle cx="651.8" cy="1989.3" r="10.0" fill="#fcfcfc" stroke="none"/>
<line x1="651.8" y1="1989.3" x2="659.9" y2="2052.1" stroke="#fcfcfc" stroke-width="6" stroke-linecap="butt"/>
<circle cx="651.8" cy="1989.3" r="3.3" fill="#4d4d4d" stroke-width="0"/>
<line x1="649.6" y1="2120.7" x2="659.9" y2="2052.1" stroke-width="12" stroke-linecap="butt"/>
<circle cx="649.6" cy="2120.7" r="10.5" fill="#4d4d4d" stroke-width="3.45"/>
<circle cx="649.6" cy="2120.7" r="9.0" fill="#fcfcfc" stroke="none"/>
<line x1="649.6" y1="2120.7" x2="659.9" y2="2052.1" stroke="#fcfcfc" stroke-width="6" stroke-linecap="butt"/>
<circle cx="659.9" cy="2052.1" r="12.5" fill="#fcfcfc" stroke-width="9.0"/>
<path d="M664.3,2040.1 A12.8,12.8 0 0 1 666.3,2063.2" stroke="#fcfcfc" stroke-width="1.2"/>
<line x1="1422.3" y1="2031" x2="1366.7" y2="1999.6" stroke-width="14.5" stroke-linecap="butt"/>
<circle cx="1422.3" cy="2031" r="10.0" fill="#4d4d4d" stroke-width="3.45"/>
<circle cx="1422.3" cy="2031" r="8.5" fill="#fcfcfc" stroke="none"/>
<line x1="1422.3" y1="2031" x2="1366.7" y2="1999.6" stroke="#fcfcfc" stroke-width="8.5" stroke-linecap="butt"/>
<circle cx="1422.3" cy="2031" r="3.3" fill="#4d4d4d" stroke-width="0"/>
<circle cx="1366.7" cy="1999.6" r="12.6" fill="#fcfcfc" stroke-width="10.2"/>
<path d="M1371.3,1986.9 A13.5,13.5 0 0 1 1373.5,2011.3" stroke="#fcfcfc" stroke-width="1.2"/>
<line x1="1845" y1="1984" x2="1827" y2="2056" stroke-width="14" stroke-linecap="butt"/>
<circle cx="1845" cy="1984" r="9.5" fill="#4d4d4d" stroke-width="3.45"/>
<circle cx="1845" cy="1984" r="8.0" fill="#fcfcfc" stroke="none"/>
<line x1="1845" y1="1984" x2="1827" y2="2056" stroke="#fcfcfc" stroke-width="8" stroke-linecap="butt"/>
<circle cx="1845" cy="1984" r="3.3" fill="#4d4d4d" stroke-width="0"/>
<line x1="1842" y1="2119" x2="1827" y2="2056" stroke-width="14" stroke-linecap="butt"/>
<circle cx="1842" cy="2119" r="9.5" fill="#4d4d4d" stroke-width="3.45"/>
<circle cx="1842" cy="2119" r="8.0" fill="#fcfcfc" stroke="none"/>
<line x1="1842" y1="2119" x2="1827" y2="2056" stroke="#fcfcfc" stroke-width="8" stroke-linecap="butt"/>
<circle cx="1842" cy="2119" r="3.3" fill="#4d4d4d" stroke-width="0"/>
<circle cx="1827" cy="2056" r="12.5" fill="#fcfcfc" stroke-width="9.0"/>
<path d="M1831.4,2044.0 A12.8,12.8 0 0 1 1833.4,2067.1" stroke="#fcfcfc" stroke-width="1.2"/>
<line x1="917" y1="2202" x2="957.9" y2="2211.7" stroke-width="13" stroke-linecap="butt"/>
<circle cx="917" cy="2202" r="9.5" fill="#4d4d4d" stroke-width="3.45"/>
<circle cx="917" cy="2202" r="8.0" fill="#fcfcfc" stroke="none"/>
<line x1="917" y1="2202" x2="957.9" y2="2211.7" stroke="#fcfcfc" stroke-width="7" stroke-linecap="butt"/>
<circle cx="917" cy="2202" r="3.3" fill="#4d4d4d" stroke-width="0"/>
<circle cx="957.9" cy="2211.7" r="12.8" fill="#fcfcfc" stroke-width="9.5"/>
<path d="M962.4,2199.2 A13.3,13.3 0 0 1 964.5,2223.2" stroke="#fcfcfc" stroke-width="1.2"/>
<path d="M905,2242 L905.5,2224 Q903,2215 912,2214.5 L921,2214 Q929,2214 927,2222 L921,2242.5" fill="none" stroke-width="3.91"/>
<circle cx="916" cy="2221.5" r="3" fill="#4d4d4d" stroke-width="0"/>
<line x1="1245.7" y1="2198.6" x2="1289" y2="2210" stroke-width="13" stroke-linecap="butt"/>
<circle cx="1245.7" cy="2198.6" r="8.3" fill="#4d4d4d" stroke-width="3.45"/>
<circle cx="1245.7" cy="2198.6" r="6.8" fill="#fcfcfc" stroke="none"/>
<line x1="1245.7" y1="2198.6" x2="1289" y2="2210" stroke="#fcfcfc" stroke-width="7" stroke-linecap="butt"/>
<circle cx="1245.7" cy="2198.6" r="3.3" fill="#4d4d4d" stroke-width="0"/>
<circle cx="1289" cy="2210" r="13.1" fill="#fcfcfc" stroke-width="9.0"/>
<path d="M1293.6,2197.4 A13.4,13.4 0 0 1 1295.7,2221.6" stroke="#fcfcfc" stroke-width="1.2"/>
<path d="M1217,2209.5 L1245,2214.5 Q1257,2216 1254,2224 Q1250,2231 1242,2228 L1214.3,2218.6" fill="none" stroke-width="3.91"/>
<circle cx="1248" cy="2222" r="3.2" fill="#4d4d4d" stroke-width="0"/>
<line x1="1577.5" y1="2197.9" x2="1620.8" y2="2209.2" stroke-width="13" stroke-linecap="butt"/>
<circle cx="1577.5" cy="2197.9" r="9.5" fill="#4d4d4d" stroke-width="3.45"/>
<circle cx="1577.5" cy="2197.9" r="8.0" fill="#fcfcfc" stroke="none"/>
<line x1="1577.5" y1="2197.9" x2="1620.8" y2="2209.2" stroke="#fcfcfc" stroke-width="7" stroke-linecap="butt"/>
<circle cx="1577.5" cy="2197.9" r="3.3" fill="#4d4d4d" stroke-width="0"/>
<circle cx="1620.8" cy="2209.2" r="12.5" fill="#fcfcfc" stroke-width="9.0"/>
<path d="M1625.2,2197.2 A12.8,12.8 0 0 1 1627.2,2220.3" stroke="#fcfcfc" stroke-width="1.2"/>
<path d="M1570.5,2234 L1570.5,2224 Q1566,2218 1567,2213.5 L1588,2213.5 Q1589,2218 1584,2224 L1582,2234" fill="none" stroke-width="3.91"/>
<circle cx="1577.5" cy="2220.5" r="3" fill="#4d4d4d" stroke-width="0"/>
<path d="M994.9,2312.3 L1065.7,2312.3 L1083.6,2284.3 A18,18 0 0 1 1118.7,2287.9 L1141.9,2304.5 L1159.8,2306.9" fill="none" stroke-width="4.14"/>
<path d="M996.1,2323 L1134.8,2321.2 Q1139,2316 1143,2315.2 L1159.2,2315.8" fill="none" stroke-width="4.14"/>
<circle cx="1133.6" cy="2311.7" r="3" fill="#4d4d4d" stroke-width="0"/>
<circle cx="1100.2" cy="2289" r="17" fill="#fcfcfc" stroke-width="0"/>
<circle cx="1100.2" cy="2289" r="14.8" fill="none" stroke-width="4.6"/>
<circle cx="1100.2" cy="2289" r="9.8" fill="none" stroke-width="4.6"/>
<polyline points="374.0,2394.4 388.0,2394.4 404.5,2400.5 418.7,2407.8 453.0,2396.4 489.5,2389.5 499.6,2392.4 517.9,2409.4 550.0,2399.0 570.5,2394.4 578.6,2404.5 602.9,2400.5 651.4,2398.5 671.7,2400.5 704.0,2389.5 740.5,2391.6 764.8,2402.5 789.0,2407.8 817.4,2402.5 841.7,2391.6 890.2,2398.5 916.5,2389.5 930.7,2394.4 979.3,2390.8 991.4,2398.5 1007.6,2397.6 1040.0,2390.4 1046.0,2389.5 1050.0,2397.2 1100.7,2388.3 1145.2,2378.2 1165.5,2382.3 1218.0,2409.8 1242.4,2407.8 1264.6,2394.4 1271.5,2406.5 1331.4,2375.4 1337.5,2378.2 1347.6,2392.4 1367.9,2403.7 1382.0,2399.7 1398.2,2408.6 1410.4,2403.7 1450.8,2411.8 1485.2,2400.5 1517.6,2388.3 1539.9,2383.5 1554.0,2389.5 1584.4,2398.5 1592.5,2393.2 1622.9,2392.4 1635.0,2399.7 1679.5,2394.4 1695.7,2388.3 1720.0,2382.3 1749.0,2378.0 1764.0,2398.7 1798.0,2390.0 1819.0,2403.0 1872.6,2388.0 1895.0,2381.0 1911.0,2404.0 1929.0,2376.0 1947.0,2403.0 1963.0,2395.0 2006.5,2404.6 2011.0,2411.0 2032.0,2400.0 2063.0,2419.0 2073.5,2406.0 2112.0,2417.0 2121.0,2418.0" fill="none" stroke-width="4.14" stroke-linecap="round"/>
<polyline points="374.0,2443.0 382.3,2444.2 412.6,2453.0 449.0,2457.0 457.0,2459.0 485.5,2440.0 493.6,2441.0 522.0,2457.0 530.0,2456.3 562.4,2440.0 574.5,2449.9 602.9,2448.0 679.8,2448.0 712.0,2435.3 732.4,2436.0 740.5,2440.0 776.9,2445.0 785.0,2453.0 805.0,2459.0 837.6,2454.3 862.0,2458.4 898.3,2444.2 910.5,2444.2 930.7,2449.9 959.0,2439.0 955.0,2454.0 999.5,2443.0 1040.0,2441.0 1048.0,2445.0 1064.3,2456.3 1078.5,2449.9 1084.5,2452.3 1139.2,2433.7 1141.2,2453.0 1155.4,2459.2 1181.7,2449.0 1206.0,2445.0 1226.2,2456.3 1238.3,2453.0 1266.7,2453.9 1282.9,2458.0 1305.0,2462.0 1351.7,2446.2 1363.8,2451.0 1376.0,2454.0 1396.2,2460.4 1422.5,2455.0 1434.6,2469.3 1444.8,2465.2 1485.2,2459.2 1544.0,2442.2 1566.2,2453.9 1602.6,2445.0 1622.9,2453.9 1655.2,2447.0 1695.7,2443.0 1703.8,2436.9 1720.0,2428.8 1741.7,2424.0 1768.5,2428.5 1776.0,2440.0 1798.0,2436.0 1807.0,2447.0 1855.0,2446.0 1889.0,2449.0 1905.0,2440.0 1926.0,2454.0 1947.0,2464.0 1968.0,2465.0 1985.7,2452.0 2006.5,2458.0 2012.5,2464.0 2032.0,2446.0 2046.7,2462.7 2082.0,2472.5 2110.7,2460.0 2120.0,2458.0" fill="none" stroke-width="4.14" stroke-linecap="round"/>
<polyline points="371.3,2926.0 380.0,2924.4 414.6,2915.0 420.7,2917.0 434.9,2928.5 481.4,2923.2 507.7,2912.3 524.0,2926.0 530.0,2919.0 536.0,2916.3 558.3,2931.3 582.6,2934.5 645.4,2917.0 669.6,2936.2 683.8,2927.3 752.6,2906.2 760.7,2924.4 774.9,2915.0 787.0,2919.0 803.2,2917.0 849.8,2934.5 886.2,2908.2 904.4,2924.4 928.7,2930.0 946.9,2917.0 967.1,2912.3 981.3,2912.3 1003.6,2928.5 1017.8,2917.0 1040.0,2926.0 1060.2,2913.1 1088.6,2899.0 1106.8,2892.0 1114.9,2917.0 1124.2,2934.5 1153.3,2913.9 1162.2,2929.3 1206.0,2901.0 1244.4,2888.8 1249.7,2937.4 1261.8,2959.6 1294.2,2920.4 1310.4,2935.4 1329.4,2921.2 1359.8,2921.2 1386.1,2923.2 1399.4,2915.1 1430.6,2926.0 1458.9,2918.0 1485.2,2923.2 1509.5,2915.1 1535.8,2911.1 1543.9,2913.1 1560.1,2921.2 1592.5,2936.6 1633.0,2923.2 1643.1,2930.1 1669.4,2915.9 1705.8,2937.4 1721.0,2939.0 1747.6,2928.5 1771.0,2943.0 1789.0,2931.0 1807.0,2924.0 1834.0,2948.0 1862.0,2943.0 1884.5,2931.0 1914.0,2918.0 1962.0,2931.4 1974.0,2933.0 1984.0,2924.0 2008.0,2946.0 2021.0,2933.0 2057.0,2954.0 2070.5,2955.0 2110.7,2936.0 2120.0,2934.0" fill="none" stroke-width="4.14" stroke-linecap="round"/>
<rect x="372.5" y="2442.5" width="4.5" height="483.5" fill="#4d4d4d" stroke="none"/>
<rect x="379.5" y="2444.0" width="2.3" height="481.0" fill="#4d4d4d" stroke="none"/>
<rect x="2117.0" y="2458.0" width="3.5" height="478.0" fill="#4d4d4d" stroke="none"/>
<rect x="2110.5" y="2460.0" width="3.0" height="476.0" fill="#4d4d4d" stroke="none"/>
<polyline points="530.0,2456.5 530.0,2524.5 1967.5,2524.5 1967.5,2465.0" fill="none" stroke-width="3.6799999999999997" stroke-linecap="butt"/>
<polyline points="527.5,2925.0 527.5,2850.5 866.0,2850.5" fill="none" stroke-width="3.6799999999999997" stroke-linecap="butt"/>
<polyline points="883.0,2850.5 943.5,2850.5" fill="none" stroke-width="3.6799999999999997" stroke-linecap="butt"/>
<polyline points="966.5,2850.5 1963.5,2849.0 1963.5,2931.0" fill="none" stroke-width="3.6799999999999997" stroke-linecap="butt"/>
<rect x="861.9" y="2590.9" width="107.7" height="220.2" fill="none" stroke-width="3.7949999999999995"/>
<rect x="872.0" y="2549.0" width="6.8" height="39.5" fill="none" stroke-width="2.9899999999999998"/>
<rect x="872.0" y="2813.5" width="6.8" height="43.0" fill="none" stroke-width="2.9899999999999998"/>
<rect x="872.1" y="2681.6" width="6.6" height="42.3" fill="none" stroke-width="3.2199999999999998"/>
<rect x="953.5" y="2549.0" width="6.8" height="39.5" fill="none" stroke-width="2.9899999999999998"/>
<rect x="953.5" y="2813.5" width="6.8" height="43.0" fill="none" stroke-width="2.9899999999999998"/>
<rect x="953.6" y="2681.6" width="6.6" height="42.3" fill="none" stroke-width="3.2199999999999998"/>
<rect x="1524.3" y="2613.3" width="86.3" height="157.8" fill="none" stroke-width="3.6799999999999997"/>
<rect x="1536.0" y="2577.5" width="8.0" height="34.5" fill="#4d4d4d" stroke="none"/>
<rect x="1595.5" y="2579.0" width="6.0" height="31.5" fill="none" stroke-width="2.9899999999999998"/>
</g>
<g fill="#4d4d4d">
<text x="996.1" y="1500.2" font-family="'Liberation Sans',sans-serif" font-size="32.70" textLength="73.8" lengthAdjust="spacingAndGlyphs" stroke="#4d4d4d" stroke-width="1.50" stroke-linejoin="round">CH 2</text>
<text x="1083.1" y="1533.5" font-family="'Liberation Sans',sans-serif" font-size="35.97" textLength="42.4" lengthAdjust="spacingAndGlyphs" stroke="#4d4d4d" stroke-width="1.65" stroke-linejoin="round">J2</text>
<text x="1407.9" y="1501.3" font-family="'Liberation Sans',sans-serif" font-size="31.34" textLength="71.7" lengthAdjust="spacingAndGlyphs" stroke="#4d4d4d" stroke-width="1.44" stroke-linejoin="round">CH I</text>
<text x="1376.7" y="1533.5" font-family="'Liberation Sans',sans-serif" font-size="35.97" textLength="27.1" lengthAdjust="spacingAndGlyphs" stroke="#4d4d4d" stroke-width="1.65" stroke-linejoin="round">JI</text>
<text x="961.3" y="1675.0" font-family="'Liberation Sans',sans-serif" font-size="30.11" textLength="17.3" lengthAdjust="spacingAndGlyphs" stroke="#4d4d4d" stroke-width="1.38" stroke-linejoin="round">A</text>
<text x="1127.3" y="1675.0" font-family="'Liberation Sans',sans-serif" font-size="30.11" textLength="18.7" lengthAdjust="spacingAndGlyphs" stroke="#4d4d4d" stroke-width="1.38" stroke-linejoin="round">C</text>
<text x="1020.9" y="1706.4" font-family="'Liberation Sans',sans-serif" font-size="31.07" textLength="20.0" lengthAdjust="spacingAndGlyphs" stroke="#4d4d4d" stroke-width="1.42" stroke-linejoin="round">B</text>
<text x="1250.6" y="1612.2" font-family="'Liberation Sans',sans-serif" font-size="30.25" textLength="104.6" lengthAdjust="spacingAndGlyphs" stroke="#4d4d4d" stroke-width="1.39" stroke-linejoin="round">BROWN</text>
<text x="1287.0" y="1644.3" font-family="'Liberation Sans',sans-serif" font-size="30.11" textLength="18.0" lengthAdjust="spacingAndGlyphs" stroke="#4d4d4d" stroke-width="1.38" stroke-linejoin="round">A</text>
<text x="1377.8" y="1676.4" font-family="'Liberation Sans',sans-serif" font-size="29.16" textLength="19.2" lengthAdjust="spacingAndGlyphs" stroke="#4d4d4d" stroke-width="1.34" stroke-linejoin="round">D</text>
<text x="1442.0" y="1697.9" font-family="'Liberation Sans',sans-serif" font-size="30.25" textLength="18.5" lengthAdjust="spacingAndGlyphs" stroke="#4d4d4d" stroke-width="1.39" stroke-linejoin="round">E</text>
<text x="1505.4" y="1688.6" font-family="'Liberation Sans',sans-serif" font-size="31.21" textLength="18.0" lengthAdjust="spacingAndGlyphs" stroke="#4d4d4d" stroke-width="1.43" stroke-linejoin="round">F</text>
<text x="1599.8" y="1708.6" font-family="'Liberation Sans',sans-serif" font-size="31.21" textLength="18.5" lengthAdjust="spacingAndGlyphs" stroke="#4d4d4d" stroke-width="1.43" stroke-linejoin="round">E</text>
<text x="1587.2" y="1738.6" font-family="'Liberation Sans',sans-serif" font-size="30.25" textLength="121.3" lengthAdjust="spacingAndGlyphs" stroke="#4d4d4d" stroke-width="1.39" stroke-linejoin="round">YELLOW</text>
<text x="1139.1" y="1809.7" font-family="'Liberation Sans',sans-serif" font-size="32.30" textLength="17.8" lengthAdjust="spacingAndGlyphs" stroke="#4d4d4d" stroke-width="1.48" stroke-linejoin="round">C</text>
<text x="1119.2" y="1842.2" font-family="'Liberation Sans',sans-serif" font-size="31.75" textLength="60.7" lengthAdjust="spacingAndGlyphs" stroke="#4d4d4d" stroke-width="1.46" stroke-linejoin="round">RED</text>
<text x="527.6" y="1809.4" font-family="'Liberation Sans',sans-serif" font-size="27.25" textLength="18.9" lengthAdjust="spacingAndGlyphs" stroke="#4d4d4d" stroke-width="1.25" stroke-linejoin="round">A</text>
<text x="601.0" y="1809.4" font-family="'Liberation Sans',sans-serif" font-size="27.25" textLength="21.0" lengthAdjust="spacingAndGlyphs" stroke="#4d4d4d" stroke-width="1.25" stroke-linejoin="round">B</text>
<text x="441.3" y="1936.2" font-family="'Liberation Sans',sans-serif" font-size="36.79" textLength="83.9" lengthAdjust="spacingAndGlyphs" stroke="#4d4d4d" stroke-width="1.69" stroke-linejoin="round">SW 4</text>
<text x="650.0" y="1849.2" font-family="'Liberation Sans',sans-serif" font-size="30.80" textLength="18.4" lengthAdjust="spacingAndGlyphs" stroke="#4d4d4d" stroke-width="1.41" stroke-linejoin="round">F</text>
<text x="676.1" y="1889.2" font-family="'Liberation Sans',sans-serif" font-size="34.07" textLength="121.2" lengthAdjust="spacingAndGlyphs" stroke="#4d4d4d" stroke-width="1.56" stroke-linejoin="round">YELLOW</text>
<text x="874.6" y="1883.9" font-family="'Liberation Sans',sans-serif" font-size="30.11" textLength="60.3" lengthAdjust="spacingAndGlyphs" stroke="#4d4d4d" stroke-width="1.38" stroke-linejoin="round">RED</text>
<text x="929.4" y="1920.6" font-family="'Liberation Sans',sans-serif" font-size="30.05" textLength="19.2" lengthAdjust="spacingAndGlyphs" stroke="#4d4d4d" stroke-width="1.38" stroke-linejoin="round">G</text>
<text x="1045.5" y="1979.3" font-family="'Liberation Sans',sans-serif" font-size="28.96" textLength="88.7" lengthAdjust="spacingAndGlyphs" stroke="#4d4d4d" stroke-width="1.33" stroke-linejoin="round">WHITE</text>
<text x="1068.3" y="2008.1" font-family="'Liberation Sans',sans-serif" font-size="28.96" textLength="20.9" lengthAdjust="spacingAndGlyphs" stroke="#4d4d4d" stroke-width="1.33" stroke-linejoin="round">N</text>
<text x="786.9" y="2052.3" font-family="'Liberation Sans',sans-serif" font-size="29.64" textLength="103.8" lengthAdjust="spacingAndGlyphs" stroke="#4d4d4d" stroke-width="1.36" stroke-linejoin="round">SHIELD</text>
<text x="681.0" y="2073.3" font-family="'Liberation Sans',sans-serif" font-size="29.84" textLength="19.7" lengthAdjust="spacingAndGlyphs" stroke="#4d4d4d" stroke-width="1.37" stroke-linejoin="round">D</text>
<text x="671.4" y="2104.7" font-family="'Liberation Sans',sans-serif" font-size="30.80" textLength="59.1" lengthAdjust="spacingAndGlyphs" stroke="#4d4d4d" stroke-width="1.41" stroke-linejoin="round">RED</text>
<text x="1334.4" y="1972.4" font-family="'Liberation Sans',sans-serif" font-size="30.80" textLength="96.4" lengthAdjust="spacingAndGlyphs" stroke="#4d4d4d" stroke-width="1.41" stroke-linejoin="round">CLEAR</text>
<text x="1395.6" y="1998.9" font-family="'Liberation Sans',sans-serif" font-size="30.39" textLength="19.0" lengthAdjust="spacingAndGlyphs" stroke="#4d4d4d" stroke-width="1.39" stroke-linejoin="round">H</text>
<text x="1790.1" y="2039.3" font-family="'Liberation Sans',sans-serif" font-size="28.62" textLength="20.9" lengthAdjust="spacingAndGlyphs" stroke="#4d4d4d" stroke-width="1.31" stroke-linejoin="round">B</text>
<text x="1702.3" y="2091.3" font-family="'Liberation Sans',sans-serif" font-size="29.98" textLength="109.3" lengthAdjust="spacingAndGlyphs" stroke="#4d4d4d" stroke-width="1.38" stroke-linejoin="round">BROWN</text>
<text x="911.4" y="2188.9" font-family="'Liberation Sans',sans-serif" font-size="31.21" textLength="109.4" lengthAdjust="spacingAndGlyphs" stroke="#4d4d4d" stroke-width="1.43" stroke-linejoin="round">VIOLET</text>
<text x="979.6" y="2216.0" font-family="'Liberation Sans',sans-serif" font-size="30.11" textLength="19.2" lengthAdjust="spacingAndGlyphs" stroke="#4d4d4d" stroke-width="1.38" stroke-linejoin="round">L</text>
<text x="1256.3" y="2184.5" font-family="'Liberation Sans',sans-serif" font-size="31.75" textLength="79.4" lengthAdjust="spacingAndGlyphs" stroke="#4d4d4d" stroke-width="1.46" stroke-linejoin="round">BLUE</text>
<text x="1314.1" y="2215.0" font-family="'Liberation Sans',sans-serif" font-size="29.84" textLength="18.4" lengthAdjust="spacingAndGlyphs" stroke="#4d4d4d" stroke-width="1.37" stroke-linejoin="round">K</text>
<text x="1582.6" y="2183.9" font-family="'Liberation Sans',sans-serif" font-size="31.82" textLength="80.6" lengthAdjust="spacingAndGlyphs" stroke="#4d4d4d" stroke-width="1.46" stroke-linejoin="round">GRAY</text>
<text x="1643.0" y="2214.7" font-family="'Liberation Sans',sans-serif" font-size="30.11" textLength="23.7" lengthAdjust="spacingAndGlyphs" stroke="#4d4d4d" stroke-width="1.38" stroke-linejoin="round">M</text>
<text x="986.4" y="2278.2" font-family="'Liberation Sans',sans-serif" font-size="30.80" textLength="98.1" lengthAdjust="spacingAndGlyphs" stroke="#4d4d4d" stroke-width="1.41" stroke-linejoin="round">GREEN</text>
<text x="1124.2" y="2286.0" font-family="'Liberation Sans',sans-serif" font-size="32.43" textLength="16.4" lengthAdjust="spacingAndGlyphs" stroke="#4d4d4d" stroke-width="1.49" stroke-linejoin="round">J</text>
<text x="2157.6" y="1640.3" font-family="'Liberation Sans',sans-serif" font-size="28.62" textLength="16.8" lengthAdjust="spacingAndGlyphs" stroke="#4d4d4d" stroke-width="1.31" stroke-linejoin="round">A</text>
<text x="2155.1" y="1685.3" font-family="'Liberation Sans',sans-serif" font-size="29.98" textLength="20.8" lengthAdjust="spacingAndGlyphs" stroke="#4d4d4d" stroke-width="1.38" stroke-linejoin="round">B</text>
<text x="2260.3" y="1670.2" font-family="'Liberation Sans',sans-serif" font-size="34.07" textLength="68.8" lengthAdjust="spacingAndGlyphs" stroke="#4d4d4d" stroke-width="1.56" stroke-linejoin="round">SW I</text>
<text x="842.6" y="2571.4" font-family="'Liberation Sans',sans-serif" font-size="27.25" textLength="16.8" lengthAdjust="spacingAndGlyphs" stroke="#4d4d4d" stroke-width="1.25" stroke-linejoin="round">A</text>
<text x="833.3" y="2708.4" font-family="'Liberation Sans',sans-serif" font-size="27.25" textLength="19.1" lengthAdjust="spacingAndGlyphs" stroke="#4d4d4d" stroke-width="1.25" stroke-linejoin="round">C</text>
<text x="980.3" y="2708.4" font-family="'Liberation Sans',sans-serif" font-size="27.25" textLength="20.4" lengthAdjust="spacingAndGlyphs" stroke="#4d4d4d" stroke-width="1.25" stroke-linejoin="round">D</text>
<text x="754.3" y="2756.2" font-family="'Liberation Sans',sans-serif" font-size="34.07" textLength="81.4" lengthAdjust="spacingAndGlyphs" stroke="#4d4d4d" stroke-width="1.56" stroke-linejoin="round">SW 3</text>
<text x="969.2" y="2841.4" font-family="'Liberation Sans',sans-serif" font-size="27.25" textLength="19.7" lengthAdjust="spacingAndGlyphs" stroke="#4d4d4d" stroke-width="1.25" stroke-linejoin="round">B</text>
<text x="1506.2" y="2601.4" font-family="'Liberation Sans',sans-serif" font-size="27.25" textLength="20.2" lengthAdjust="spacingAndGlyphs" stroke="#4d4d4d" stroke-width="1.25" stroke-linejoin="round">C</text>
<text x="1613.4" y="2601.4" font-family="'Liberation Sans',sans-serif" font-size="27.25" textLength="19.2" lengthAdjust="spacingAndGlyphs" stroke="#4d4d4d" stroke-width="1.25" stroke-linejoin="round">D</text>
<text x="1419.3" y="2754.2" font-family="'Liberation Sans',sans-serif" font-size="34.07" textLength="80.6" lengthAdjust="spacingAndGlyphs" stroke="#4d4d4d" stroke-width="1.56" stroke-linejoin="round">SW 2</text>
</g>
</svg>
</body></html>
